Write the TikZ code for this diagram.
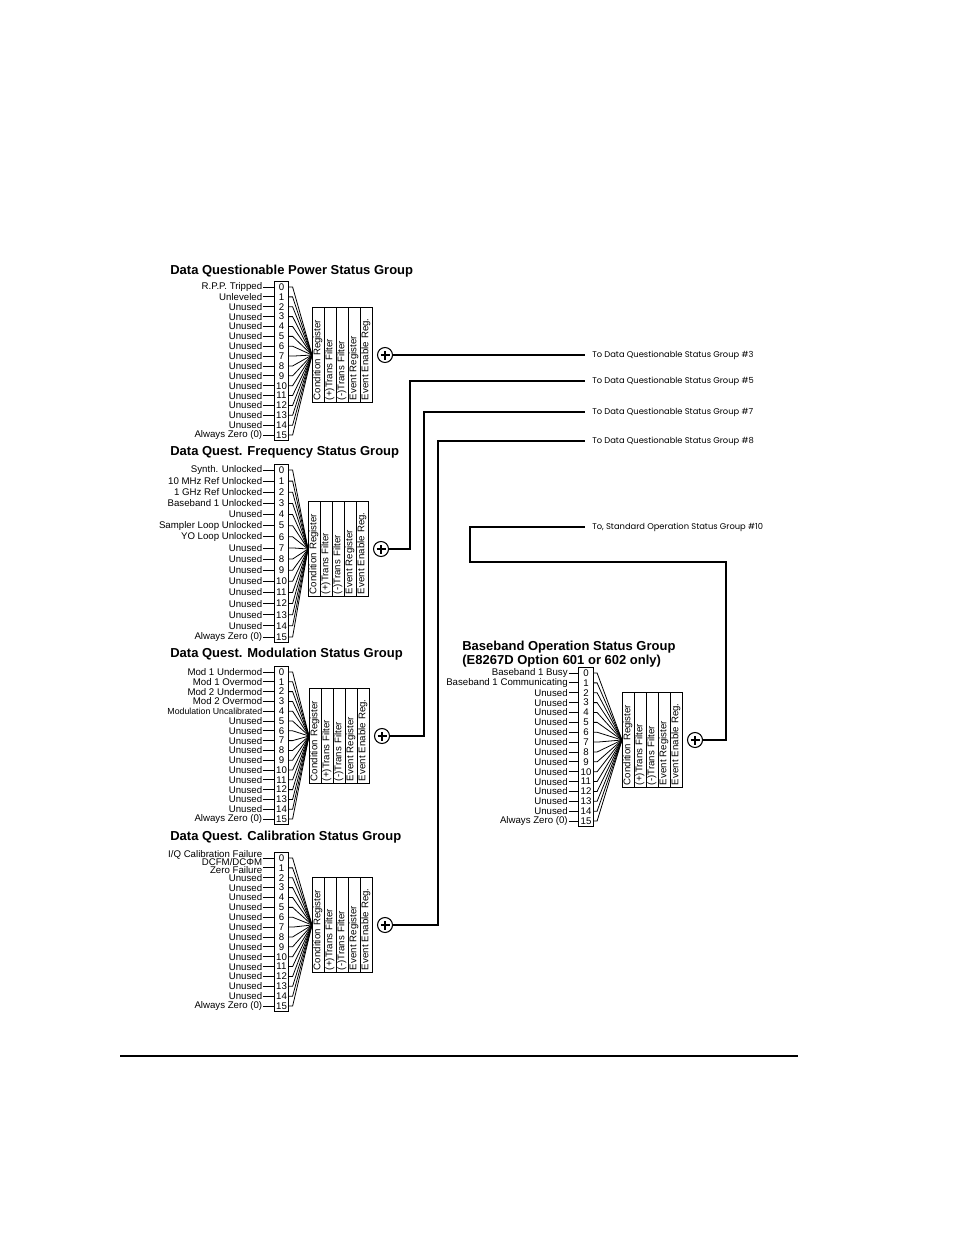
\documentclass[tikz,border=0pt]{standalone}
\usepackage{fontspec}
\setmainfont{Liberation Sans}
\newfontfamily\geofont{Poppins}
\usetikzlibrary{positioning,fit}

\begin{document}
\begin{tikzpicture}[
      x=0.02cm, y=-0.02cm,
      ttl/.style={font=\bfseries\fontsize{7.4}{6.8}\selectfont,anchor=west,
                  inner sep=0pt,align=left},
      lbl/.style={font=\fontsize{5.5}{5.5}\selectfont,inner sep=0.5pt,align=right},
      bit/.style={font=\fontsize{5.5}{6}\selectfont,minimum width=0.27cm,inner sep=0pt},
      bitbox/.style={draw,inner sep=0pt,line width=0.5pt},
      col/.style={draw,rotate=90,anchor=north,minimum width=1.9cm,minimum height=0.24cm,
                  inner xsep=0.6pt,inner ysep=0pt,outer sep=0pt,text width=1.8cm,
                  align=left,text height=4pt,text depth=1.3pt,
                  font=\fontsize{5.5}{6}\selectfont,line width=0.5pt},
      adder/.style={draw,circle,minimum size=0.3cm,inner sep=0pt,line width=0.6pt,
                  path picture={
                    \draw[line width=1.1pt]
                      ([xshift=-0.09cm]path picture bounding box.center) --
                      ([xshift=0.09cm]path picture bounding box.center);
                    \draw[line width=1.1pt]
                      ([yshift=-0.09cm]path picture bounding box.center) --
                      ([yshift=0.09cm]path picture bounding box.center);}},
      fan/.style={line width=0.45pt},
      wire/.style={line width=0.6pt},
      dest/.style={font=\geofont\fontsize{4.75}{6}\selectfont,anchor=west,inner xsep=0.14cm},
    ]
    \useasboundingbox (0,0) rectangle (954,1235);

    % ── Data Questionable Power Status Group ───────────────────────────────
    \node[ttl] (pwtitle) at (170,271) {Data Questionable Power Status Group};
    \foreach \txt [count=\i from 0] in {R.P.P. Tripped,Unleveled,Unused,Unused,Unused,
        Unused,Unused,Unused,Unused,Unused,Unused,Unused,Unused,Unused,Unused,Always Zero (0)} {
      \node[bit,minimum height=0.197cm] (pw\i) at (281.5,{287+9.87*\i}) {\i};
      \node[lbl,left=0.22cm of pw\i] (pwl\i) {\txt};
      \draw[fan] (pwl\i.east) -- (pw\i.west);
    }
    \node[bitbox,fit=(pw0)(pw15)] (pwbox) {};
    \node[col] (pwr1) at (312,355) {Condition Register};
    \node[col] (pwr2) at (pwr1.south) {(+)Trans Filter};
    \node[col] (pwr3) at (pwr2.south) {(-)Trans Filter};
    \node[col] (pwr4) at (pwr3.south) {Event Register};
    \node[col] (pwr5) at (pwr4.south) {Event Enable Reg.};
    \foreach \i in {0,...,15} \draw[fan] (pw\i.east) -- ++(4,0) -- (pwr1.north);
    \node[adder,right=0.1cm of pwr5.south] (pws) {};

    % ── Data Quest. Frequency Status Group ─────────────────────────────────
    \node[ttl] (fqtitle) at (170,452) {Data Quest. Frequency Status Group};
    \foreach \txt [count=\i from 0] in {Synth. Unlocked,10 MHz Ref Unlocked,
        1 GHz Ref Unlocked,Baseband 1 Unlocked,Unused,Sampler Loop Unlocked,
        YO Loop Unlocked,Unused,Unused,Unused,Unused,Unused,Unused,Unused,Unused,
        Always Zero (0)} {
      \node[bit,minimum height=0.2226cm] (fq\i) at (281.5,{470+11.13*\i}) {\i};
      \node[lbl,left=0.22cm of fq\i] (fql\i) {\txt};
      \draw[fan] (fql\i.east) -- (fq\i.west);
    }
    \node[bitbox,fit=(fq0)(fq15)] (fqbox) {};
    \node[col] (fqr1) at (308,549) {Condition Register};
    \node[col] (fqr2) at (fqr1.south) {(+)Trans Filter};
    \node[col] (fqr3) at (fqr2.south) {(-)Trans Filter};
    \node[col] (fqr4) at (fqr3.south) {Event Register};
    \node[col] (fqr5) at (fqr4.south) {Event Enable Reg.};
    \foreach \i in {0,...,15} \draw[fan] (fq\i.east) -- ++(4,0) -- (fqr1.north);
    \node[adder,right=0.1cm of fqr5.south] (fqs) {};

    % ── Data Quest. Modulation Status Group ────────────────────────────────
    \node[ttl] (mdtitle) at (170,654) {Data Quest. Modulation Status Group};
    \foreach \txt [count=\i from 0] in {Mod 1 Undermod,Mod 1 Overmod,Mod 2 Undermod,
        Mod 2 Overmod,{\fontsize{5}{5}\selectfont Modulation Uncalibrated},Unused,Unused,
        Unused,Unused,Unused,Unused,Unused,Unused,Unused,Unused,Always Zero (0)} {
      \node[bit,minimum height=0.196cm] (md\i) at (281.5,{672+9.8*\i}) {\i};
      \node[lbl,left=0.22cm of md\i] (mdl\i) {\txt};
      \draw[fan] (mdl\i.east) -- (md\i.west);
    }
    \node[bitbox,fit=(md0)(md15)] (mdbox) {};
    \node[col] (mdr1) at (309,736) {Condition Register};
    \node[col] (mdr2) at (mdr1.south) {(+)Trans Filter};
    \node[col] (mdr3) at (mdr2.south) {(-)Trans Filter};
    \node[col] (mdr4) at (mdr3.south) {Event Register};
    \node[col] (mdr5) at (mdr4.south) {Event Enable Reg.};
    \foreach \i in {0,...,15} \draw[fan] (md\i.east) -- ++(4,0) -- (mdr1.north);
    \node[adder,right=0.1cm of mdr5.south] (mds) {};

    % ── Data Quest. Calibration Status Group ───────────────────────────────
    \node[ttl] (cltitle) at (170,837) {Data Quest. Calibration Status Group};
    \foreach \i in {0,...,15}
      \node[bit,minimum height=0.197cm] (cl\i) at (281.5,{858+9.87*\i}) {\i};
    \node[lbl,left=0.22cm of cl0,yshift=0.06cm] (cll0) {I/Q Calibration Failure};
    \node[lbl,left=0.22cm of cl1,yshift=0.04cm,font=\fontsize{5.5}{4.5}\selectfont]
      (cll1) {DCFM/DCΦM\\Zero Failure};
    \foreach \i in {2,...,14}
      \node[lbl,left=0.22cm of cl\i] (cll\i) {Unused};
    \node[lbl,left=0.22cm of cl15] (cll15) {Always Zero (0)};
    \foreach \i in {0,...,15} \draw[fan] (cll\i.east |- cl\i.west) -- (cl\i.west);
    \node[bitbox,fit=(cl0)(cl15)] (clbox) {};
    \node[col] (clr1) at (312,925) {Condition Register};
    \node[col] (clr2) at (clr1.south) {(+)Trans Filter};
    \node[col] (clr3) at (clr2.south) {(-)Trans Filter};
    \node[col] (clr4) at (clr3.south) {Event Register};
    \node[col] (clr5) at (clr4.south) {Event Enable Reg.};
    \foreach \i in {0,...,15} \draw[fan] (cl\i.east) -- ++(4,0) -- (clr1.north);
    \node[adder,right=0.1cm of clr5.south] (cls) {};

    % ── Baseband Operation Status Group ────────────────────────────────────
    \node[ttl] (bbtitle) at (462,654) {Baseband Operation Status Group\\
                                        (E8267D Option 601 or 602 only)};
    \foreach \txt [count=\i from 0] in {Baseband 1 Busy,Baseband 1 Communicating,
        Unused,Unused,Unused,Unused,Unused,Unused,Unused,Unused,Unused,Unused,Unused,
        Unused,Unused,Always Zero (0)} {
      \node[bit,minimum height=0.197cm] (bb\i) at (586,{673+9.87*\i}) {\i};
      \node[lbl,left=0.2cm of bb\i] (bbl\i) {\txt};
      \draw[fan] (bbl\i.east) -- (bb\i.west);
    }
    \node[bitbox,fit=(bb0)(bb15)] (bbbox) {};
    \node[col] (bbr1) at (622,740) {Condition Register};
    \node[col] (bbr2) at (bbr1.south) {(+)Trans Filter};
    \node[col] (bbr3) at (bbr2.south) {(-)Trans Filter};
    \node[col] (bbr4) at (bbr3.south) {Event Register};
    \node[col] (bbr5) at (bbr4.south) {Event Enable Reg.};
    \foreach \i in {0,...,15} \draw[fan] (bb\i.east) -- ++(4,0) -- (bbr1.north);
    \node[adder,right=0.1cm of bbr5.south] (bbs) {};

    % ── Summary outputs ────────────────────────────────────────────────────
    \node[dest] (to3)  at (585,355) {To Data Questionable Status Group \#3};
    \node[dest] (to5)  at (585,381) {To Data Questionable Status Group \#5};
    \node[dest] (to7)  at (585,412) {To Data Questionable Status Group \#7};
    \node[dest] (to8)  at (585,441) {To Data Questionable Status Group \#8};
    \node[dest] (to10) at (585,527) {To, Standard Operation Status Group \#10};

    \coordinate (fqturn) at (410,381);
    \coordinate (mdturn) at (424,412);
    \coordinate (clturn) at (438,441);
    \coordinate (bbturn) at (726,562);
    \coordinate (bbleft) at (470,562);

    \draw[wire] (pws.east) -- (to3.west);
    \draw[wire] (fqs.east) -| (fqturn) -- (to5.west);
    \draw[wire] (mds.east) -| (mdturn) -- (to7.west);
    \draw[wire] (cls.east) -| (clturn) -- (to8.west);
    \draw[wire] (bbs.east) -| (bbturn) -- (bbleft) |- (to10.west);

    % ── Page rule ──────────────────────────────────────────────────────────
    \coordinate (rulel) at (120,1056);
    \coordinate (ruler) at (798,1056);
    \draw[line width=1.5pt] (rulel) -- (ruler);

  \end{tikzpicture}
\end{document}
